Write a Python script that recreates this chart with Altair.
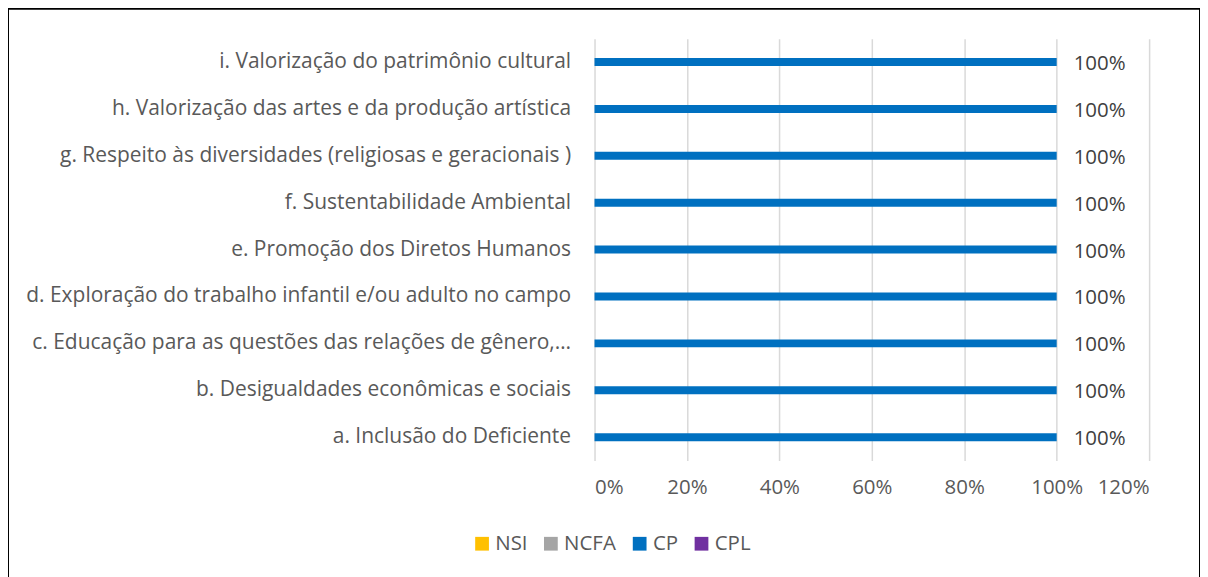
import altair as alt
import pandas as pd

categories = [
    "a. Inclusão do Deficiente",
    "b. Desigualdades econômicas e sociais",
    "c. Educação para as questões das relações de gênero,…",
    "d. Exploração do trabalho infantil e/ou adulto no campo",
    "e. Promoção dos Diretos Humanos",
    "f. Sustentabilidade Ambiental",
    "g. Respeito às diversidades (religiosas e geracionais )",
    "h. Valorização das artes e da produção artística",
    "i. Valorização do patrimônio cultural",
]
series = ["NSI", "NCFA", "CP", "CPL"]
colors = ["#FFC000", "#A5A5A5", "#0070C0", "#7030A0"]
nsi = [0, 0, 0, 0, 0, 0, 0, 0, 0]
ncfa = [0, 0, 0, 0, 0, 0, 0, 0, 0]
cp = [1.0, 1.0, 1.0, 1.0, 1.0, 1.0, 1.0, 1.0, 1.0]
cpl = [0, 0, 0, 0, 0, 0, 0, 0, 0]

rows = []
for s, vals in zip(series, [nsi, ncfa, cp, cpl]):
    for c, v in zip(categories, vals):
        rows.append({"cat": c, "serie": s, "val": v, "ord": series.index(s)})
df = pd.DataFrame(rows)

FONT = "Open Sans"
FS = 21
W, H = 556, 423
ysort = list(reversed(categories))

base = alt.Chart(df)

bars = base.mark_bar(size=8).encode(
    y=alt.Y("cat:N", sort=ysort, title=None,
            axis=alt.Axis(labelFontSize=FS, labelColor="#595959", labelFont=FONT,
                          labelPadding=24, labelLimit=700, ticks=False, domain=False)),
    x=alt.X("val:Q", stack="zero", title=None,
            scale=alt.Scale(domain=[0, 1.2], nice=False),
            axis=alt.Axis(values=[0, 0.2, 0.4, 0.6, 0.8, 1.0, 1.2], format=".0%",
                          labelFontSize=20.5, labelColor="#595959", labelFont=FONT,
                          labelPadding=17, ticks=False, domain=False,
                          grid=True, gridColor="#D9D9D9", gridWidth=1.5)),
    color=alt.Color("serie:N", sort=series,
                    scale=alt.Scale(domain=series, range=colors),
                    legend=alt.Legend(title=None, orient="none", direction="horizontal",
                                      legendX=-123, legendY=496,
                                      symbolType="square", symbolSize=190,
                                      symbolStrokeWidth=0,
                                      labelFontSize=20.5, labelColor="#595959", labelFont=FONT,
                                      columnPadding=13, labelOffset=3)),
    order=alt.Order("ord:Q"),
)

labels = base.transform_filter("datum.val > 0").mark_text(
    align="left", dx=17, dy=2, fontSize=20.5, color="#404040", font=FONT
).encode(
    y=alt.Y("cat:N", sort=ysort),
    x=alt.X("val:Q"),
    text=alt.Text("val:Q", format=".0%"),
)

border = alt.Chart(pd.DataFrame({"k": [0]})).mark_rect(
    fill=None, stroke="#000000", strokeWidth=2, clip=False
).encode(
    x=alt.value(-588), x2=alt.value(W + 51),
    y=alt.value(-30), y2=alt.value(H + 120),
)

chart = alt.layer(bars, labels, border).properties(
    width=W, height=H,
    autosize=alt.AutoSizeParams(type="none"),
    padding={"left": 588, "top": 30, "right": 51, "bottom": 116},
    background="white",
).configure_view(stroke=None)

chart.save("out.html", embed_options={"renderer": "svg", "actions": False})
